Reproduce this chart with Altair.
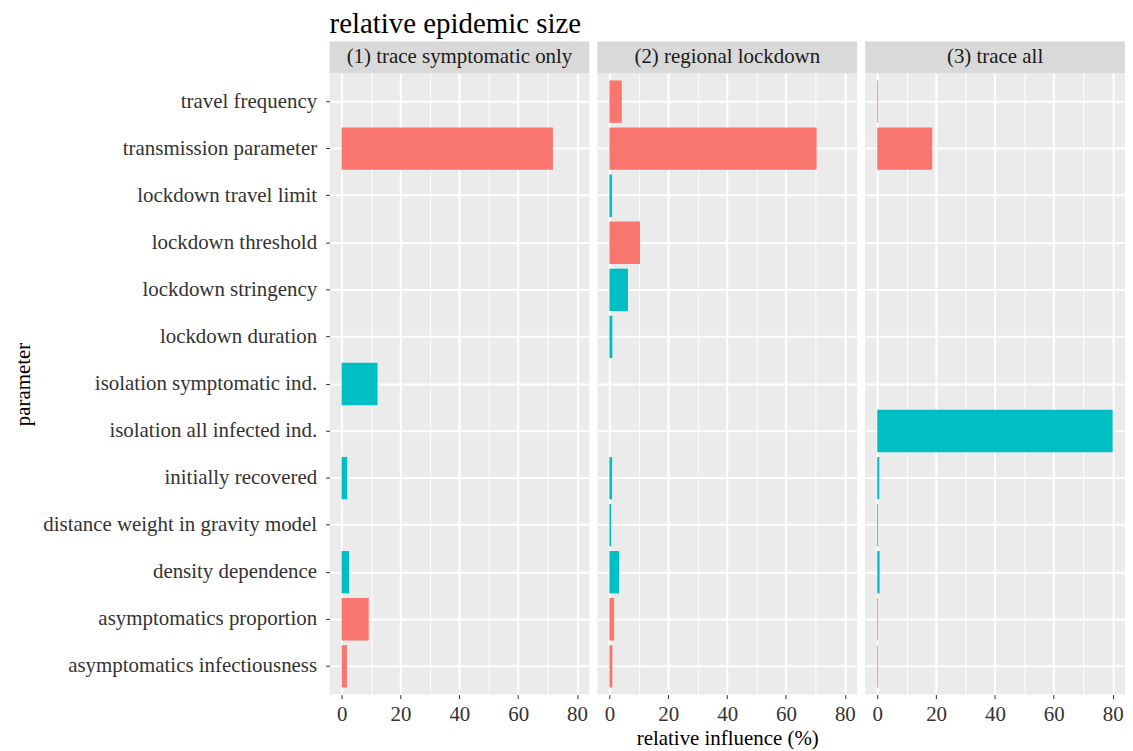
import altair as alt
import pandas as pd

# ---- data ----
parameters = [
    "travel frequency",
    "transmission parameter",
    "lockdown travel limit",
    "lockdown threshold",
    "lockdown stringency",
    "lockdown duration",
    "isolation symptomatic ind.",
    "isolation all infected ind.",
    "initially recovered",
    "distance weight in gravity model",
    "density dependence",
    "asymptomatics proportion",
    "asymptomatics infectiousness",
]
# colour group of each parameter (red / teal in the reference)
groups = ["A", "A", "B", "A", "B", "B", "B", "B", "B", "B", "B", "A", "A"]

scenarios = ["(1) trace symptomatic only", "(2) regional lockdown", "(3) trace all"]

influence_1 = [None, 71.8, None, None, None, None, 12.2, None, 1.9, None, 2.5, 9.2, 1.8]
influence_2 = [4.2, 70.4, 0.9, 10.4, 6.3, 1.0, None, None, 0.9, 0.6, 3.3, 1.6, 1.0]
influence_3 = [0.3, 18.7, None, None, None, None, None, 80.0, 0.7, 0.3, 0.8, 0.3, 0.3]
influences = [influence_1, influence_2, influence_3]

x_ticks = [0, 10, 20, 30, 40, 50, 60, 70, 80]

# ---- style ----
SERIF = "Liberation Serif"
TEXT = "#333333"
RED = "#F8766D"
TEAL = "#00BFC4"
W = 261
H = 624
STRIP_H = 32

major = "datum.value % 20 === 0"


def x_axis(show_title):
    kw = dict(
        values=x_ticks,
        labelExpr=f"{major} ? datum.label : ''",
        labelFont=SERIF,
        labelFontSize=21,
        labelColor=TEXT,
        labelPadding=5,
        labelFlush=False,
        tickColor=TEXT,
        tickSize=4,
        tickWidth=1,
        tickOpacity={"condition": {"test": major, "value": 1}, "value": 0},
        domain=False,
        grid=True,
        gridColor="white",
        gridWidth={"condition": {"test": major, "value": 2}, "value": 1},
        titleFont=SERIF,
        titleFontSize=21,
        titleFontWeight="normal",
        titleColor="black",
        titlePadding=3,
    )
    kw["title"] = "relative influence (%)" if show_title else None
    return alt.Axis(**kw)


def y_axis(show_labels):
    if show_labels:
        return alt.Axis(
            title="parameter",
            labelFont=SERIF,
            labelFontSize=21,
            labelColor=TEXT,
            labelPadding=9,
            labelLimit=500,
            tickColor=TEXT,
            tickSize=4,
            tickWidth=1,
            domain=False,
            grid=True,
            gridColor="white",
            gridWidth=2,
            bandPosition=0.5,
            titleFont=SERIF,
            titleFontSize=21,
            titleFontWeight="normal",
            titleColor="black",
            titleAngle=270,
            titleBaseline="middle",
            titleAlign="center",
            titleX=-307,
            titleY=H / 2,
        )
    return alt.Axis(
        title=None,
        labels=False,
        ticks=False,
        domain=False,
        grid=True,
        gridColor="white",
        gridWidth=2,
        bandPosition=0.5,
    )


panels = []
for i, (name, vals) in enumerate(zip(scenarios, influences)):
    df = pd.DataFrame({"parameter": parameters, "group": groups, "influence": vals})
    df = df.dropna()

    bars = (
        alt.Chart(df)
        .mark_bar()
        .encode(
            x=alt.X(
                "influence:Q",
                scale=alt.Scale(domain=[-4.1, 84.2], nice=False, zero=False),
                axis=x_axis(i == 1),
            ),
            x2=alt.datum(0),
            y=alt.Y(
                "parameter:N",
                sort=parameters,
                scale=alt.Scale(domain=parameters, paddingInner=0.1, paddingOuter=0.15),
                axis=y_axis(i == 0),
            ),
            color=alt.Color(
                "group:N",
                scale=alt.Scale(domain=["A", "B"], range=[RED, TEAL]),
                legend=None,
            ),
        )
    )

    strip_df = pd.DataFrame({"scenario": [name]})
    strip = (
        alt.Chart(strip_df)
        .mark_rect(color="#D9D9D9")
        .encode(
            x=alt.value(0), x2=alt.value(W), y=alt.value(-STRIP_H), y2=alt.value(0)
        )
    )
    strip_text = (
        alt.Chart(strip_df)
        .mark_text(font=SERIF, fontSize=21, color="#1A1A1A", align="center", baseline="middle")
        .encode(text="scenario:N", x=alt.value(W / 2), y=alt.value(-STRIP_H / 2))
    )

    panels.append(alt.layer(strip, strip_text, bars).properties(width=W, height=H))

chart = (
    alt.hconcat(*panels, spacing=8)
    .properties(
        title=alt.TitleParams(
            text="relative epidemic size",
            anchor="start",
            font=SERIF,
            fontSize=29,
            fontWeight="normal",
            color="black",
            dx=318,
            offset=3,
        ),
        padding={"left": 5, "top": 0, "right": 0, "bottom": 0},
        background="white",
    )
    .configure_view(stroke=None, fill="#EBEBEB")
)

chart.save("out.html", embed_options={"renderer": "svg", "actions": False})
